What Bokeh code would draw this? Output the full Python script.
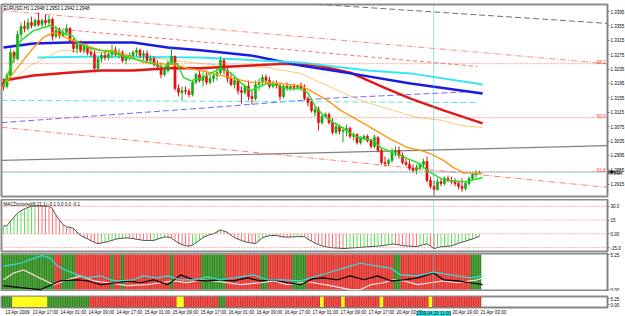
from bokeh.plotting import figure
from bokeh.layouts import column
from bokeh.models import Range1d, FixedTicker, Span, Label, ColumnDataSource, PrintfTickFormatter
from bokeh.embed import file_html
from bokeh.resources import INLINE

# ---------------- data ----------------
opens = [1.3198,1.3187,1.3217,1.3281,1.3264,1.3331,1.3353,1.3348,1.3364,1.3356,
         1.3370,1.3359,1.3370,1.3364,1.3373,1.3326,1.3342,1.3328,1.3337,1.3348,
         1.3314,1.3292,1.3303,1.3287,1.3298,1.3281,1.3276,1.3237,1.3264,1.3273,
         1.3267,1.3276,1.3287,1.3276,1.3281,1.3259,1.3267,1.3273,1.3281,1.3287,
         1.3273,1.3278,1.3259,1.3264,1.3248,1.3242,1.3220,1.3231,1.3253,1.3270,
         1.3181,1.3170,1.3175,1.3173,1.3164,1.3198,1.3220,1.3203,1.3214,1.3198,
         1.3209,1.3217,1.3225,1.3259,1.3231,1.3209,1.3192,1.3203,1.3175,1.3170,
         1.3187,1.3159,1.3153,1.3192,1.3198,1.3212,1.3203,1.3187,1.3195,1.3189,
         1.3159,1.3187,1.3181,1.3187,1.3184,1.3189,1.3181,1.3153,1.3142,1.3114,
         1.3123,1.3086,1.3103,1.3109,1.3086,1.3059,1.3075,1.3062,1.3064,1.3070,
         1.3048,1.3053,1.3031,1.3042,1.3048,1.3036,1.3020,1.3045,1.3009,1.2975,
         1.2972,1.2981,1.3003,1.3009,1.2995,1.2975,1.2970,1.2959,1.2953,1.2961,
         1.2970,1.2978,1.2925,1.2909,1.2900,1.2922,1.2917,1.2931,1.2925,1.2922,
         1.2917,1.2909,1.2903,1.2917,1.2931,1.2942,1.2948]
highs = [1.3209,1.3225,1.3292,1.3287,1.3342,1.3364,1.3370,1.3376,1.3381,1.3376,
         1.3392,1.3376,1.3387,1.3384,1.3378,1.3353,1.3351,1.3348,1.3359,1.3351,
         1.3320,1.3309,1.3314,1.3303,1.3303,1.3292,1.3287,1.3270,1.3281,1.3287,
         1.3281,1.3303,1.3298,1.3292,1.3287,1.3276,1.3281,1.3287,1.3295,1.3292,
         1.3287,1.3287,1.3273,1.3270,1.3259,1.3253,1.3237,1.3259,1.3298,1.3273,
         1.3192,1.3187,1.3187,1.3181,1.3203,1.3225,1.3231,1.3225,1.3231,1.3220,
         1.3225,1.3237,1.3270,1.3264,1.3242,1.3225,1.3214,1.3209,1.3187,1.3192,
         1.3203,1.3175,1.3203,1.3209,1.3220,1.3220,1.3214,1.3203,1.3203,1.3198,
         1.3192,1.3198,1.3192,1.3195,1.3192,1.3198,1.3192,1.3159,1.3153,1.3131,
         1.3131,1.3109,1.3114,1.3114,1.3098,1.3086,1.3081,1.3075,1.3081,1.3075,
         1.3059,1.3056,1.3048,1.3053,1.3053,1.3042,1.3053,1.3048,1.3014,1.2992,
         1.2986,1.3014,1.3020,1.3020,1.3003,1.2986,1.2981,1.2970,1.2970,1.2975,
         1.2986,1.2992,1.2936,1.2925,1.2931,1.2931,1.2936,1.2939,1.2936,1.2931,
         1.2925,1.2931,1.2922,1.2936,1.2947,1.2953,1.2953]
lows = [1.3175,1.3181,1.3209,1.3253,1.3259,1.3320,1.3337,1.3342,1.3348,1.3351,
        1.3353,1.3351,1.3356,1.3353,1.3314,1.3320,1.3320,1.3323,1.3328,1.3309,
        1.3281,1.3278,1.3281,1.3278,1.3273,1.3270,1.3225,1.3225,1.3253,1.3259,
        1.3259,1.3264,1.3270,1.3264,1.3253,1.3248,1.3259,1.3264,1.3270,1.3264,
        1.3259,1.3253,1.3248,1.3242,1.3231,1.3209,1.3214,1.3225,1.3248,1.3175,
        1.3159,1.3148,1.3164,1.3156,1.3159,1.3192,1.3198,1.3187,1.3192,1.3192,
        1.3198,1.3203,1.3220,1.3220,1.3198,1.3187,1.3181,1.3164,1.3139,1.3164,
        1.3148,1.3136,1.3148,1.3175,1.3187,1.3192,1.3181,1.3181,1.3181,1.3148,
        1.3153,1.3175,1.3175,1.3175,1.3178,1.3175,1.3148,1.3131,1.3114,1.3103,
        1.3064,1.3081,1.3098,1.3081,1.3053,1.3053,1.3053,1.3031,1.3048,1.3042,
        1.3036,1.3025,1.3025,1.3036,1.3031,1.3014,1.3014,1.3003,1.2970,1.2964,
        1.2967,1.2975,1.2992,1.2986,1.2970,1.2964,1.2953,1.2947,1.2942,1.2953,
        1.2959,1.2920,1.2903,1.2884,1.2897,1.2909,1.2911,1.2920,1.2914,1.2909,
        1.2900,1.2894,1.2897,1.2911,1.2925,1.2933,1.2942]
closes = [1.3187,1.3217,1.3281,1.3264,1.3331,1.3353,1.3348,1.3364,1.3356,1.3370,
          1.3359,1.3370,1.3364,1.3373,1.3326,1.3342,1.3328,1.3337,1.3348,1.3314,
          1.3292,1.3303,1.3287,1.3298,1.3281,1.3276,1.3237,1.3264,1.3273,1.3267,
          1.3276,1.3287,1.3276,1.3281,1.3259,1.3267,1.3273,1.3281,1.3287,1.3273,
          1.3278,1.3259,1.3264,1.3248,1.3242,1.3220,1.3231,1.3253,1.3270,1.3181,
          1.3170,1.3175,1.3173,1.3164,1.3198,1.3220,1.3203,1.3214,1.3198,1.3209,
          1.3217,1.3225,1.3259,1.3231,1.3209,1.3192,1.3203,1.3175,1.3170,1.3187,
          1.3159,1.3153,1.3192,1.3198,1.3212,1.3203,1.3187,1.3195,1.3189,1.3159,
          1.3187,1.3181,1.3187,1.3184,1.3189,1.3181,1.3153,1.3142,1.3120,1.3123,
          1.3086,1.3103,1.3109,1.3086,1.3059,1.3075,1.3062,1.3064,1.3070,1.3048,
          1.3053,1.3031,1.3042,1.3048,1.3036,1.3020,1.3045,1.3009,1.2975,1.2972,
          1.2981,1.3003,1.3009,1.2995,1.2975,1.2970,1.2959,1.2953,1.2961,1.2970,
          1.2978,1.2925,1.2909,1.2900,1.2922,1.2917,1.2931,1.2925,1.2922,1.2917,
          1.2909,1.2903,1.2917,1.2931,1.2942,1.2947,1.2948]

# moving averages (bar index, price)
ma_green_x = [0,2,4.9,8.6,13.4,14.9,17.1,19.7,21.1,24,27.7,31.4,35.4,39.1,42.9,45.7,47.7,49.7,51.4,53.4,
              56.3,62,64.9,67.7,70.6,72.6,75.4,78.3,81.1,84.9,86.9,89.1,91.4,94.3,97.1,100,102.9,105.7,
              107.7,109.7,111.4,113.4,115.4,118.3,122,124.9,127.7,130.6,132.6,134.3,136.9]
ma_green_y = [1.3187,1.3239,1.3314,1.3342,1.3356,1.3351,1.3334,1.3328,1.3309,1.3295,1.3287,1.3281,1.3267,
              1.3259,1.3250,1.3239,1.3253,1.3250,1.3212,1.3203,1.3209,1.3237,1.3225,1.3198,1.3175,1.3184,
              1.3195,1.3189,1.3181,1.3181,1.3170,1.3131,1.3106,1.3086,1.3070,1.3050,1.3042,1.3036,1.3017,
              1.3009,1.3000,1.2995,1.2986,1.2975,1.2947,1.2931,1.2925,1.2922,1.2922,1.2928,1.2933]
ma_orange_x = [0,4.9,8.6,11.4,14.3,22,27.7,30.6,35.4,40,44.9,49.7,52.6,56.3,65.7,70.6,75.4,84.9,87.7,92.6,
               96.3,100,104,107.7,111.4,115.4,119.1,122,125.7,128.6,131.4,135.4,136.9]
ma_orange_y = [1.3189,1.3250,1.3295,1.3323,1.3337,1.3306,1.3287,1.3287,1.3273,1.3253,1.3250,1.3245,1.3237,
               1.3231,1.3209,1.3198,1.3198,1.3189,1.3175,1.3148,1.3120,1.3100,1.3078,1.3056,1.3036,1.3017,
               1.3009,1.3000,1.2981,1.2961,1.2947,1.2945,1.2945]
ma_tan_x = [0,7.7,16.3,27.7,42,56.3,75.4,84.9,94.3,100,104.9,111.4,118.3,125.7,130.6,136.9]
ma_tan_y = [1.3181,1.3245,1.3287,1.3281,1.3267,1.3250,1.3239,1.3223,1.3181,1.3156,1.3139,1.3120,1.3100,
            1.3092,1.3078,1.3073]
ma_blue_x = [0,8.6,18.3,27.7,37.1,46.9,56.3,70.6,84.9,99.1,116.3,136.9]
ma_blue_y = [1.3295,1.3306,1.3309,1.3309,1.3309,1.3295,1.3287,1.3273,1.3245,1.3223,1.3195,1.3167]
ma_cyan_x = [9.7,27.7,56.3,84.9,104,116.3,136.9]
ma_cyan_y = [1.3267,1.3270,1.3267,1.3253,1.3231,1.3223,1.3192]
ma_red_x = [0,8.6,18.3,27.7,37.1,46.9,56.3,70.6,80,89.7,99.1,108.6,116.3,125.7,136.9]
ma_red_y = [1.3203,1.3217,1.3225,1.3231,1.3231,1.3237,1.3237,1.3245,1.3250,1.3245,1.3225,1.3184,1.3153,
            1.3120,1.3084]

# trend lines (bar index, price)
gray_line_x, gray_line_y = [-0.6, 172.6], [1.2981, 1.3022]
gray_dash_x, gray_dash_y = [82, 172.6], [1.3420, 1.3362]
pink_a_x, pink_a_y = [-0.6, 172.6], [1.3398, 1.3250]
pink_b_x, pink_b_y = [13.4, 135.4], [1.3348, 1.3242]
pink_c_x, pink_c_y = [-0.6, 172.6], [1.3073, 1.2906]
blue_dash_x, blue_dash_y = [-0.6, 59.1, 91.4, 135.4], [1.3086, 1.3128, 1.3153, 1.3173]
cyan_dash_x, cyan_dash_y = [-0.6, 135.4], [1.3148, 1.3142]

fib_levels = [1.3250, 1.3100, 1.2950]
fib_names = ["38.2", "50.0", "61.8"]
bid_price = 1.2948
price_ticks = [1.2915, 1.2955, 1.2995, 1.3035, 1.3075, 1.3115, 1.3155, 1.3195, 1.3235, 1.3275, 1.3315, 1.3355, 1.3395]
crosshair_bar = 122.9
crosshair_text = "2009.04.20 11:00"

macd = [8.6,8.9,13.9,18.2,22.5,25.2,27.3,28.9,30.0,30.3,
        30.3,30.3,30.3,30.3,27.3,20.4,15.0,10.2,7.5,7.2,
        5.9,2.1,-1.8,-3.7,-5.4,-7.5,-9.3,-10.7,-10.0,-9.2,
        -8.4,-7.2,-5.9,-5.1,-4.8,-4.4,-4.7,-5.2,-5.9,-6.5,
        -7.2,-7.2,-7.2,-7.1,-5.8,-4.5,-3.5,-3.5,-4.8,-7.5,
        -10.2,-11.8,-12.9,-13.4,-12.3,-9.6,-7.0,-4.1,-2.4,-0.8,
        0.0,2.1,4.3,2.9,1.6,-1.6,-4.2,-5.8,-7.3,-8.6,
        -9.4,-10.1,-10.7,-7.5,-4.3,-3.0,-2.1,-1.8,-1.8,-2.7,
        -3.5,-3.5,-3.5,-3.3,-3.1,-3.0,-3.2,-5.9,-8.0,-10.2,
        -11.8,-13.2,-13.9,-14.8,-15.2,-15.5,-15.7,-16.1,-15.9,-15.5,
        -15.3,-15.0,-14.8,-14.5,-14.1,-13.9,-13.6,-13.3,-13.1,-12.5,
        -11.8,-11.0,-11.4,-12.1,-12.9,-13.2,-13.5,-13.7,-13.9,-12.9,
        -11.8,-10.9,-13.4,-16.1,-15.0,-14.2,-13.8,-13.5,-13.2,-11.8,
        -10.2,-9.1,-8.0,-6.7,-5.6,-4.1,-2.5]
macd_levels = [30, 15, 0, -15]
macd_labels = {30: "30.0", 15: "15", 0: "0.00", -15: "-15.0"}

# panel 3: colour state runs and three lines
p3_runs = [("g",15),("r",2),("g",4),("r",10),("g",1),("r",2),("g",1),("r",13),("g",1),("r",8),
           ("g",7),("r",10),("g",2),("r",7),("g",4),("r",25),("g",2),("r",20),("g",3)]
p3_cyan_x = [0,4.9,8.6,11.1,13.4,15.4,18.3,21.1,24,27.7,30.6,32.6,37.1,40,44,46.9,50.6,54.3,58.3,62,65.7,
             71.4,75.4,80,84.9,87.7,92.6,97.1,102,106.9,110.6,113.4,118.3,122.9,127.7,133.4,136.9]
p3_cyan_y = [3.50,3.94,4.67,5.10,4.67,3.50,2.77,2.19,1.75,2.04,1.46,1.31,1.46,2.04,1.75,2.04,1.46,1.46,1.90,
             1.46,1.75,2.19,1.46,1.46,1.31,1.75,2.48,3.21,3.94,3.50,3.21,2.19,2.04,2.62,2.19,1.75,2.04]
p3_black_x = [0,4.9,10.6,16.3,21.1,24,27.7,32.6,35.4,39.1,42.9,46.9,50.6,54.3,58.3,62,65.7,69.7,73.4,77.1,
              81.1,84.9,88.3,91.4,95.4,99.1,102.9,106.9,110.6,114.3,118.3,122.9,125.7,129.7,133.4,136.9]
p3_black_y = [0.58,0.29,0.0,1.31,1.46,1.31,0.73,1.02,1.31,1.02,1.46,0.73,2.19,1.46,1.31,1.46,1.31,1.75,1.31,
              1.46,1.02,0.73,1.60,1.75,1.46,2.04,1.46,2.04,1.31,1.46,1.75,2.48,1.46,1.31,1.02,0.73]
p3_white_x = [0,2.9,5.7,8.6,11.4,14.3,18.3,22,25.7,29.7,35.4,41.1,44.9,48.6,52.6,56.3,60,64,67.7,73.4,77.1,
              81.1,86.9,93.4,99.1,102,104.9,108.6,111.4,114.3,118.3,122,125.7,129.7,133.4,135.4,136.9]
p3_white_y = [1.46,2.48,2.92,2.19,1.46,0.73,1.46,2.04,1.31,1.02,0.58,0.73,1.02,1.31,1.02,1.46,1.31,1.02,0.73,
              1.02,1.31,0.73,1.17,0.58,0.0,0.0,0.73,1.02,1.46,1.31,0.73,1.02,1.31,1.02,1.31,1.46,1.75]

# panel 4: colour state runs
p4_runs = [("g",3),("y",10),("g",12),("r",25),("y",2),("r",10),("g",2),("r",27),("y",1),("r",5),
           ("y",1),("r",10),("y",1),("r",13),("y",1),("r",14)]

tick_bars = [0,8,16,24,32,40,48,56,64,72,80,88,96,104,112,120,128,136]
tick_labels = ["13 Apr 2009","13 Apr 17:00","14 Apr 01:00","14 Apr 09:00","14 Apr 17:00","15 Apr 01:00",
               "15 Apr 09:00","15 Apr 17:00","16 Apr 01:00","16 Apr 09:00","16 Apr 17:00","17 Apr 01:00",
               "17 Apr 09:00","17 Apr 17:00","20 Apr 03:00","","20 Apr 19:00","21 Apr 03:00"]

# ---------------- drawing ----------------
FW = 606
FONT = "Liberation Sans"
FS = "4.5px"
xr = Range1d(-0.571, 172.57)
n = len(closes)
idx = list(range(n))

def make_fig(fh, y0, y1, bt, bb, xaxis=False):
    f = figure(frame_width=FW, frame_height=fh, x_range=xr, y_range=Range1d(y0, y1),
               output_backend="svg", toolbar_location=None,
               x_axis_location="below" if xaxis else None, y_axis_location="right",
               min_border_left=1, min_border_right=0, min_border_top=bt, min_border_bottom=bb,
               background_fill_color="white", border_fill_color="white",
               outline_line_color="#8c8c8c", outline_line_width=2)
    f.grid.visible = False
    return f

def style_axis(ax):
    ax.major_label_text_font_size = FS
    ax.major_label_text_font = FONT
    ax.major_label_text_color = "black"
    ax.major_tick_out = 2
    ax.major_tick_in = 0
    ax.minor_tick_out = 0
    ax.minor_tick_in = 0
    ax.axis_line_color = "#808080"
    ax.major_tick_line_color = "#808080"
    ax.major_label_standoff = 1

def cross(f):
    f.add_layout(Span(location=crosshair_bar, dimension="height", line_color="#3cc8c8",
                      line_dash="1 1", line_width=1))

# main price panel
MAIN_H = 192
MAIN_Y0, MAIN_Y1 = 1.28807, 1.34145
p = make_fig(MAIN_H, MAIN_Y0, MAIN_Y1, 0, 3)
ya = p.yaxis[0]
style_axis(ya)
ya.ticker = FixedTicker(ticks=price_ticks)
ya.formatter = PrintfTickFormatter(format="%.4f")

for lv in fib_levels:
    p.add_layout(Span(location=lv, dimension="width", line_color="#ff5a5a", line_dash="1 2", line_width=1))
p.add_layout(Span(location=bid_price, dimension="width", line_color="#3cc8c8", line_dash="1 1", line_width=1))
cross(p)

p.line(gray_line_x, gray_line_y, line_color="#808080", line_width=1.2)
p.line(gray_dash_x, gray_dash_y, line_color="#707070", line_width=1, line_dash="6 3")
p.line(pink_a_x, pink_a_y, line_color="#ff8c8c", line_width=1, line_dash="6 2 1 2")
p.line(pink_b_x, pink_b_y, line_color="#ff7070", line_width=1, line_dash="4 3")
p.line(pink_c_x, pink_c_y, line_color="#ff8080", line_width=1, line_dash="6 2 1 2")
p.line(blue_dash_x, blue_dash_y, line_color="#6a6aff", line_width=1, line_dash="6 3")
p.line(cyan_dash_x, cyan_dash_y, line_color="#5ee6e6", line_width=1, line_dash="6 3")

p.line(ma_tan_x, ma_tan_y, line_color="#ffc878", line_width=1)
p.line(ma_red_x, ma_red_y, line_color="#e01818", line_width=2.5)
p.line(ma_blue_x, ma_blue_y, line_color="#1a1ae0", line_width=2.5)
p.line(ma_cyan_x, ma_cyan_y, line_color="#38e8f0", line_width=2)

cols = ["#18a818" if c >= o else "#e81010" for o, c in zip(opens, closes)]
src = ColumnDataSource(dict(x=idx, h=highs, l=lows,
                            top=[max(o, c) for o, c in zip(opens, closes)],
                            bot=[min(o, c) for o, c in zip(opens, closes)], col=cols))
p.segment(x0="x", y0="l", x1="x", y1="h", line_color="col", line_width=1, source=src)
p.vbar(x="x", width=0.6, top="top", bottom="bot", fill_color="col", line_color="col", line_width=0.6, source=src)

p.line(ma_orange_x, ma_orange_y, line_color="#ff9a10", line_width=1.4)
p.line(ma_green_x, ma_green_y, line_color="#20e020", line_width=1.4)

for lv, nm in zip(fib_levels, fib_names):
    p.add_layout(Label(x=FW - 2, y=lv, x_units="screen", text=nm, text_align="right",
                       text_baseline="bottom", text_font=FONT, text_font_size=FS, text_color="#ff3030"))
p.add_layout(Label(x=2, y=MAIN_H - 1, x_units="screen", y_units="screen",
                   text="EURUSD,H1  1.2948 1.2953 1.2942 1.2948", text_baseline="top",
                   text_font=FONT, text_font_size=FS, text_color="black"))
# current price box: lives in the thin side panel above the frame (so it is not clipped);
# its offset is measured from that panel's bottom edge (= frame top), downward negative
bid_below_top = (MAIN_Y1 - bid_price) / (MAIN_Y1 - MAIN_Y0) * MAIN_H
p.add_layout(Label(x=xr.end, y=-bid_below_top, y_units="screen", x_offset=1, text="1.2948",
                   text_baseline="middle", text_font=FONT, text_font_size=FS, text_color="white",
                   background_fill_color="black", padding=0), "above")

# MACD panel
m = make_fig(52, -19.29, 37.5, 0, 1)
ma = m.yaxis[0]
style_axis(ma)
ma.ticker = FixedTicker(ticks=macd_levels)
ma.major_label_overrides = macd_labels
for lv in macd_levels:
    m.add_layout(Span(location=lv, dimension="width", line_color="#ff6a6a", line_dash="1 2", line_width=1))
cross(m)
hcol = ["#40e040" if (i > 0 and macd[i] > macd[i - 1]) or i == 0 else "#ff5a5a" for i in idx]
m.segment(x0=idx, y0=[0] * n, x1=idx, y1=macd, line_color=hcol, line_width=1, line_alpha=0.85)
m.line(idx, macd, line_color="#505050", line_width=1)
m.add_layout(Label(x=2, y=50, x_units="screen", y_units="screen",
                   text="MACDcolored(8,21,1) -0.1 0.0 0.0 -0.1", text_baseline="top",
                   text_font=FONT, text_font_size=FS, text_color="black"))

# panel 3
def expand(runs):
    out = []
    for s, k in runs:
        out += [s] * k
    return out

state_col = {"g": "#2f8a1c", "r": "#e2322c", "y": "#ffff00"}
q = make_fig(38, -0.292, 5.395, 1, 0)
qa = q.yaxis[0]
style_axis(qa)
qa.ticker = FixedTicker(ticks=[0, 5.25])
qa.major_label_overrides = {0: "0.00", 5.25: "5.25"}
s3 = expand(p3_runs)
q.vbar(x=idx, width=1.0, bottom=0, top=5.25, fill_color=[state_col[s] for s in s3], line_color=None)
q.segment(x0=idx, y0=[0] * n, x1=idx, y1=[5.25] * n, line_color="white", line_alpha=0.35,
          line_dash="1 1", line_width=1)
cross(q)
q.line(p3_white_x, p3_white_y, line_color="#ffe4e4", line_width=1.2)
q.line(p3_black_x, p3_black_y, line_color="black", line_width=1.2)
q.line(p3_cyan_x, p3_cyan_y, line_color="#30e0e0", line_width=1.2)

# panel 4 with time axis
r = make_fig(11, -2.5, 7.5, 0, 0, xaxis=True)
ra = r.yaxis[0]
style_axis(ra)
ra.ticker = FixedTicker(ticks=[0, 5.25])
ra.major_label_overrides = {0: "0.00", 5.25: "5.25"}
s4 = expand(p4_runs)
r.vbar(x=idx, width=1.0, bottom=-2.5, top=7.5, fill_color=[state_col[s] for s in s4], line_color=None)
r.segment(x0=idx, y0=[-2.5] * n, x1=idx, y1=[7.5] * n, line_color="white", line_alpha=0.35,
          line_dash="1 1", line_width=1)
cross(r)
xa = r.xaxis[0]
style_axis(xa)
xa.ticker = FixedTicker(ticks=[b + 4 for b in tick_bars])
xa.major_label_overrides = {b + 4: t for b, t in zip(tick_bars, tick_labels)}
xa.major_tick_out = 0
xa.major_label_standoff = 2
# crosshair time box, in a side panel so it can sit over the time axis
r.add_layout(Label(x=crosshair_bar, y=-17, y_units="screen", text=crosshair_text, text_align="center",
                   text_baseline="middle", text_font=FONT, text_font_size=FS, text_color="black",
                   background_fill_color="#38e8e8", padding=0), "above")

layout = column(p, m, q, r, spacing=0)
open("out.html", "w").write(file_html(layout, INLINE))
